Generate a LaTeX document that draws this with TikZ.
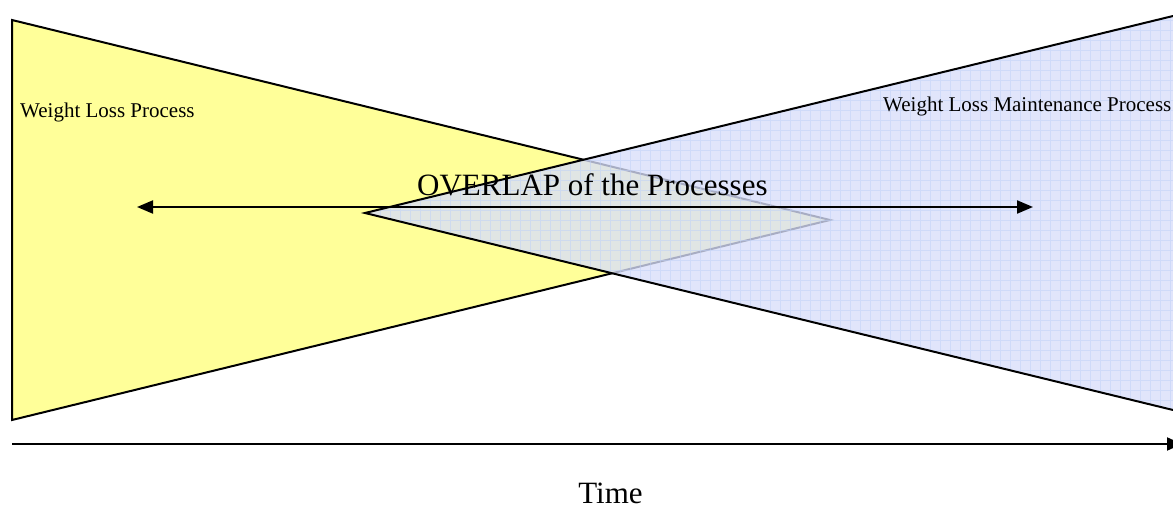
\documentclass[tikz,border=0pt]{standalone}
\usepackage{fontspec}
\setmainfont{Liberation Serif}
\usetikzlibrary{arrows.meta}
\definecolor{wlyellow}{RGB}{255,255,153}
\definecolor{wlblue}{RGB}{216,222,250}
\definecolor{wlgrid}{RGB}{190,208,248}
\tikzset{
  outline/.style={draw=black, line width=2pt, line join=miter},
  yellowtri/.style={outline, fill=wlyellow},
  bluefill/.style={fill=wlblue, fill opacity=0.78},
  gridline/.style={draw=wlgrid, line width=0.8pt, opacity=0.5},
  arrowline/.style={draw=black, line width=2pt},
  smalltext/.style={inner sep=0pt, anchor=base west, font=\fontsize{21}{25}\selectfont},
  bigtext/.style={inner sep=0pt, font=\fontsize{31}{37}\selectfont}
}
\begin{document}
\begin{tikzpicture}[x=1pt,y=-1pt]
\useasboundingbox (0,0) rectangle (1173,508);
% vertices
\coordinate (yTL) at (12,20);
\coordinate (yBL) at (12,420);
\coordinate (yA) at (830,220);
\coordinate (bA) at (365,213);
\coordinate (bT) at (1173,16);
\coordinate (bB) at (1173,410);
% yellow triangle
\path[yellowtri] (yTL) -- (yBL) -- (yA) -- cycle;
% blue triangle
\path[bluefill] (bA) -- (bT) -- (bB) -- cycle;
\begin{scope}
  \clip (bA) -- (bT) -- (bB) -- cycle;
  \draw[gridline] (360,0) grid[step=10pt] (1180,420);
\end{scope}
\draw[outline, line cap=butt] (bT) -- (bA) -- (bB);
% double arrow
\coordinate (lArr) at (137,207);
\coordinate (rArr) at (1033,207);
\draw[arrowline, {Triangle[length=16pt,width=13pt]}-{Triangle[length=16pt,width=13pt]}] (lArr) -- (rArr);
% time axis
\coordinate (t0) at (12,444);
\coordinate (t1) at (1182,444);
\draw[arrowline, -{Triangle[length=15pt,width=13pt]}] (t0) -- (t1);
% labels
\node[smalltext] (wl) at (20,118) {Weight Loss Process};
\node[smalltext] (wlm) at (883,112) {Weight Loss Maintenance Process};
\node[bigtext, anchor=base west] (ov) at (417,195) {OVERLAP of the Processes};
\node[bigtext, anchor=base] (time) at (610.5,503) {Time};
\end{tikzpicture}
\end{document}
